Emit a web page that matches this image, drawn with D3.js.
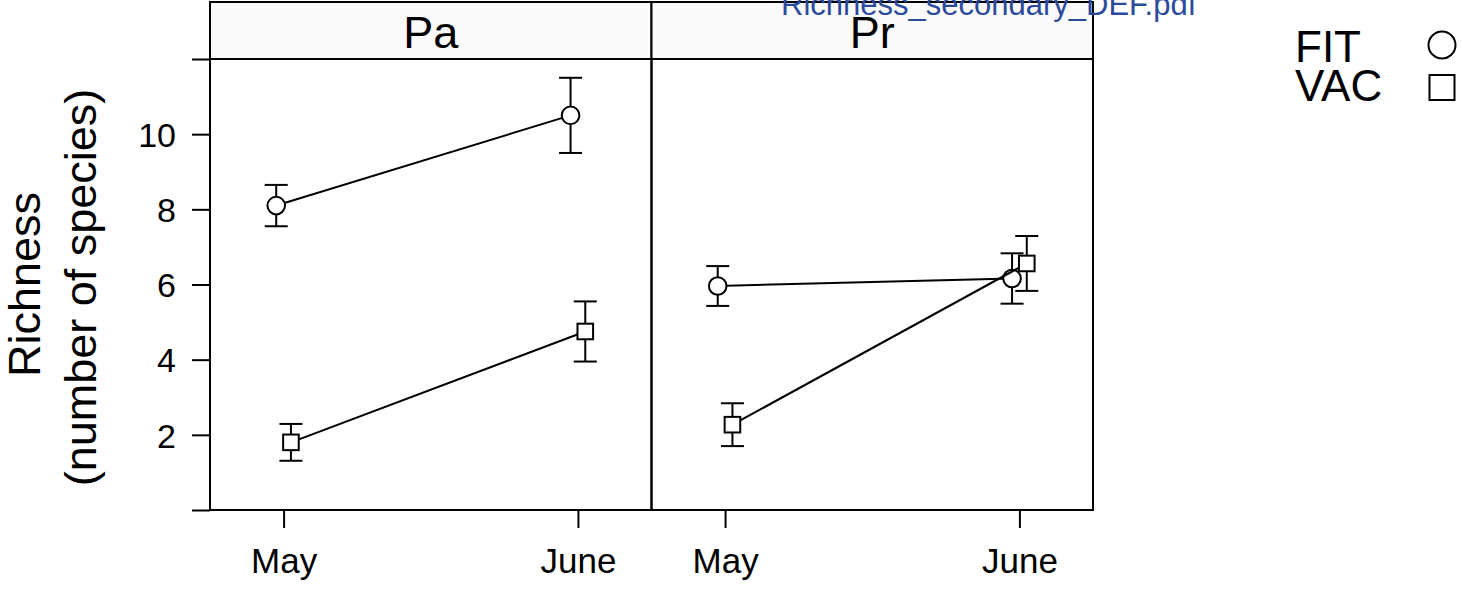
<!DOCTYPE html>
<html>
<head>
<meta charset="utf-8">
<script src="https://cdn.jsdelivr.net/npm/d3@7"></script>
<style>
  html, body { margin: 0; padding: 0; background: #ffffff; }
  svg { display: block; font-family: "Liberation Sans", Arial, Helvetica, sans-serif; }
</style>
</head>
<body>
<svg id="chart" width="1462" height="589"></svg>
<script>
// ---- data ----
const panels = ["Pa", "Pr"];
const months = ["May", "June"];
const groups = ["FIT", "VAC"];
const fitMean = { Pa: [8.1, 10.5], Pr: [5.96, 6.16] };
const fitSE   = { Pa: [0.55, 1.0],  Pr: [0.53, 0.67] };
const vacMean = { Pa: [1.8, 4.75],  Pr: [2.27, 6.56] };
const vacSE   = { Pa: [0.49, 0.8],  Pr: [0.57, 0.73] };
const yTicks = [2, 4, 6, 8, 10];
const yTitle = ["Richness", "(number of species)"];
const fileLabel = "Richness_secondary_DEF.pdf";

// ---- layout ----
const svg = d3.select("#chart");
const panelLeft = 210, panelW = 441.5, plotTop = 59, plotBottom = 510, stripTop = 2;
const dodge = { FIT: -0.025, VAC: 0.025 };
const shape = { FIT: "circle", VAC: "square" };

const y = d3.scaleLinear().domain([0, 12]).range([plotBottom, plotTop]);
const panelX = d3.scaleBand().domain(panels).range([panelLeft, panelLeft + 2 * panelW]).padding(0);
const xIdx = d3.scaleLinear().domain([0.75, 2.25]);

const series = [
  { name: "FIT", mean: fitMean, se: fitSE },
  { name: "VAC", mean: vacMean, se: vacSE }
];

function drawMarker(g, type, cx, cy, size) {
  if (type === "circle") {
    g.append("circle").attr("cx", cx).attr("cy", cy).attr("r", size)
      .attr("fill", "#fff").attr("stroke", "#000").attr("stroke-width", 2);
  } else {
    g.append("rect").attr("x", cx - size).attr("y", cy - size)
      .attr("width", 2 * size).attr("height", 2 * size)
      .attr("fill", "#fff").attr("stroke", "#000").attr("stroke-width", 2);
  }
}

panels.forEach((p, pi) => {
  const x0 = panelX(p), x1 = x0 + panelX.bandwidth();
  const x = xIdx.copy().range([x0, x1]);
  const g = svg.append("g");

  // strip
  g.append("rect").attr("x", x0).attr("y", stripTop).attr("width", x1 - x0).attr("height", plotTop - stripTop)
    .attr("fill", "#fafafa").attr("stroke", "#000").attr("stroke-width", 2);
  g.append("text").attr("x", (x0 + x1) / 2).attr("y", 48).attr("text-anchor", "middle")
    .attr("font-size", 45).attr("fill", "#000").text(p);

  // panel box
  g.append("rect").attr("x", x0).attr("y", plotTop).attr("width", x1 - x0).attr("height", plotBottom - plotTop)
    .attr("fill", "none").attr("stroke", "#000").attr("stroke-width", 2);

  // x axis
  const xAxis = d3.axisBottom(x).tickValues([1, 2]).tickSize(18).tickPadding(44)
    .tickFormat((d) => months[d - 1]);
  const ax = g.append("g").attr("transform", `translate(0,${plotBottom})`).call(xAxis);
  ax.select(".domain").remove();
  ax.selectAll("line").attr("stroke", "#000").attr("stroke-width", 2);
  ax.selectAll("text").attr("font-size", 35).attr("fill", "#000").attr("dy", 0);
  ax.selectAll(".tick text").attr("y", 63);

  // series
  series.forEach((s) => {
    const pts = months.map((m, i) => ({
      cx: x(i + 1 + dodge[s.name]),
      m: s.mean[p][i],
      se: s.se[p][i]
    }));
    const sg = g.append("g");
    sg.append("path")
      .attr("d", d3.line().x((d) => d.cx).y((d) => y(d.m))(pts))
      .attr("fill", "none").attr("stroke", "#000").attr("stroke-width", 2);
    pts.forEach((d) => {
      sg.append("line").attr("x1", d.cx).attr("x2", d.cx).attr("y1", y(d.m - d.se)).attr("y2", y(d.m + d.se))
        .attr("stroke", "#000").attr("stroke-width", 2);
      [d.m - d.se, d.m + d.se].forEach((v) => {
        sg.append("line").attr("x1", d.cx - 11.5).attr("x2", d.cx + 11.5).attr("y1", y(v)).attr("y2", y(v))
          .attr("stroke", "#000").attr("stroke-width", 2);
      });
    });
    pts.forEach((d) => drawMarker(sg, shape[s.name], d.cx, y(d.m), shape[s.name] === "circle" ? 8.8 : 7.8));
  });
});

// y axis (left of first panel)
const yAxis = d3.axisLeft(y).tickValues([0].concat(yTicks, [12])).tickSize(18).tickPadding(16)
  .tickFormat((d) => (yTicks.includes(d) ? d : ""));
const ay = svg.append("g").attr("transform", `translate(${panelLeft},0)`).call(yAxis);
ay.select(".domain").remove();
ay.selectAll("line").attr("stroke", "#000").attr("stroke-width", 2);
ay.selectAll("text").attr("font-size", 34).attr("fill", "#000").attr("dy", "0.36em");

// y title
const yc = (plotTop + plotBottom) / 2;
svg.append("text").attr("transform", `translate(40,${yc}) rotate(-90)`).attr("text-anchor", "middle")
  .attr("font-size", 45).attr("fill", "#000").text(yTitle[0]);
svg.append("text").attr("transform", `translate(96,${yc + 3}) rotate(-90)`).attr("text-anchor", "middle")
  .attr("font-size", 45).attr("fill", "#000").text(yTitle[1]);

// legend
const legend = svg.append("g");
groups.forEach((gname, i) => {
  const by = [62, 101][i];
  legend.append("text").attr("x", 1295).attr("y", by).attr("font-size", 44).attr("fill", "#000").text(gname);
  drawMarker(legend, shape[gname], 1442, [45, 87.5][i], shape[gname] === "circle" ? 13.5 : 12.5);
});

// file label
svg.append("text").attr("x", 781).attr("y", 15).attr("font-size", 31).attr("fill", "#2b4a9b").text(fileLabel);
</script>
</body>
</html>
